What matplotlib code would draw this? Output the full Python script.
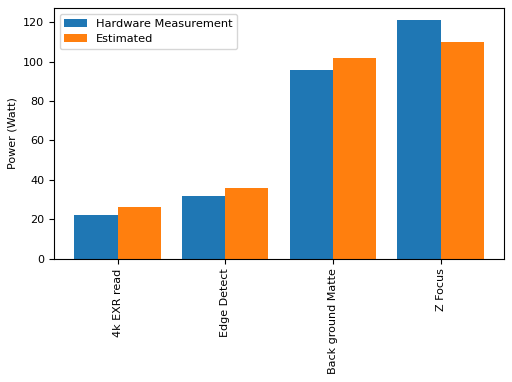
import matplotlib
matplotlib.use("Agg")
import matplotlib.pyplot as plt
import numpy as np

categories = ["4k EXR read", "Edge Detect", "Back ground Matte", "Z Focus"]
hardware = [22, 32, 96, 121]
estimated = [26, 36, 102, 110]

fig = plt.figure(figsize=(5.12, 3.82), dpi=100)
ax = fig.add_axes([0.1055, 0.323, 0.879, 0.655])
x = np.arange(len(categories))
w = 0.4
ax.bar(x - w/2, hardware, w, label="Hardware Measurement", color="#1f77b4")
ax.bar(x + w/2, estimated, w, label="Estimated", color="#ff7f0e")
ax.set_xticks(x)
ax.set_xticklabels(categories, rotation=90, fontsize=8)
ax.tick_params(axis="y", labelsize=8)
ax.set_ylabel("Power (Watt)", fontsize=8)
ax.legend(loc="upper left", fontsize=8.2)
fig.savefig("out.png", dpi=100)
